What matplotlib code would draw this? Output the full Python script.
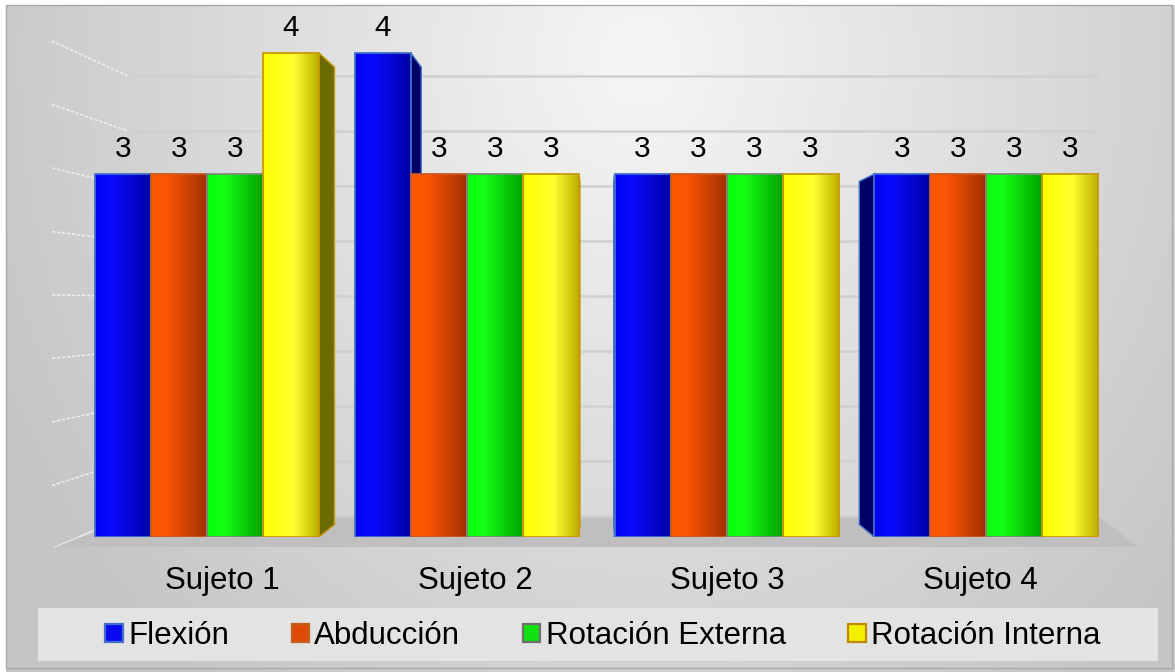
import numpy as np
import matplotlib
matplotlib.use('Agg')
import matplotlib.pyplot as plt
from matplotlib.patches import Rectangle, Polygon

# ---------------- data ----------------
categories = ['Sujeto 1', 'Sujeto 2', 'Sujeto 3', 'Sujeto 4']
series_names = ['Flexión', 'Abducción', 'Rotación Externa', 'Rotación Interna']
flexion = [3, 4, 3, 3]
abduccion = [3, 3, 3, 3]
rot_externa = [3, 3, 3, 3]
rot_interna = [4, 3, 3, 3]
grid_values = [0, 0.5, 1, 1.5, 2, 2.5, 3, 3.5, 4]

series_values = [flexion, abduccion, rot_externa, rot_interna]

# ---------------- styles ----------------
grad_stops = [
    [(0.0, (0.00, 0.00, 0.96)), (0.3, (0.04, 0.04, 1.00)), (1.0, (0.00, 0.00, 0.66))],
    [(0.0, (1.00, 0.34, 0.00)), (0.3, (0.98, 0.33, 0.02)), (1.0, (0.64, 0.19, 0.00))],
    [(0.0, (0.02, 1.00, 0.06)), (0.3, (0.08, 1.00, 0.08)), (1.0, (0.00, 0.64, 0.00))],
    [(0.0, (1.00, 1.00, 0.00)), (0.55, (1.00, 1.00, 0.18)), (1.0, (0.74, 0.68, 0.00))],
]
edge_colors = ['#3f6fc8', '#c85a1e', '#7c8a7c', '#c89a00']
side_colors = ['#000068', '#7a2600', '#005e00', '#6b6b00']
legend_faces = ['#0a0af0', '#e04a08', '#10e010', '#f0f000']
legend_edges = ['#3f6fc8', '#c0601c', '#707070', '#c08a00']

plt.rcParams['font.family'] = ['Liberation Sans', 'DejaVu Sans']

W, H = 1175, 672
fig = plt.figure(figsize=(W / 100, H / 100), dpi=100)

# ---------------- background (pixel coordinates) ----------------
bg = fig.add_axes([0, 0, 1, 1])
bg.set_xlim(0, W)
bg.set_ylim(H, 0)
bg.axis('off')
yy, xx = np.mgrid[0:H, 0:W]
r = np.sqrt(((xx - 640) / 700.0) ** 2 + ((yy - 60) / 800.0) ** 2)
b = np.clip(0.965 - 0.19 * r, 0.775, 1.0)
img = np.dstack([b, b, b])
img[:5, :] = 1.0
img[:, :6] = 1.0
bg.imshow(img, extent=(0, W, H, 0), aspect='auto', interpolation='bilinear', zorder=0)
bg.add_patch(Rectangle((6, 5), 1166, 663, fill=False, edgecolor='#a8a8a8', lw=1, zorder=1))
# floor
bg.add_patch(Polygon([(55, 547), (1138, 547), (1098, 516), (128, 516)], closed=True,
                     facecolor='#bfbfbf', edgecolor='none', zorder=1))
bg.plot([55, 128], [547, 516], color='#e4e4e4', lw=1.0, zorder=1)
# legend box
bg.add_patch(Rectangle((38, 608), 1120, 53, facecolor='#e3e3e3', edgecolor='none', zorder=1))
bg.set_xlim(0, W)
bg.set_ylim(H, 0)

# ---------------- main axes ----------------
PX, PY = 259.8, 121.0   # pixels per category / per value unit
X0, Y0 = 207.0, 537.0   # pixel of category 0 / value 0
YMAX = 4.4
ax = fig.add_axes([0, (H - Y0) / H, 1, YMAX * PY / H])
ax.patch.set_alpha(0)
ax.axis('off')


def px2x(p):
    return (p - X0) / PX


def py2y(p):
    return (Y0 - p) / PY


# back-wall + left-wall grid lines
for v in grid_values:
    y_back = py2y(516 - 110 * v)
    y_left = py2y(549 - 127 * v)
    ax.plot([px2x(52), px2x(128)], [y_left, y_back], color='#ededed', lw=1.2,
            ls=(0, (2, 1)), zorder=1)
    ax.plot([px2x(128), px2x(1098)], [y_back, y_back], color='#d0d0d0', lw=1.8, zorder=1)

bw = 56.0 / PX
offsets = (np.arange(4) - 1.5) * bw
vp = np.array([px2x(600), py2y(310)])
depth = 0.055


def grad_image(stops, n=128):
    pos = np.array([s[0] for s in stops])
    cols = np.array([s[1] for s in stops])
    t = np.linspace(0, 1, n)
    out = np.stack([np.interp(t, pos, cols[:, c]) for c in range(3)], axis=-1)
    return out[None, :, :]


for j, vals in enumerate(series_values):
    gimg = grad_image(grad_stops[j])
    for i, v in enumerate(vals):
        x0 = i + offsets[j] - bw / 2
        x1 = x0 + bw
        cx = i + offsets[j]
        # visible side face (perspective)
        face_edge = None
        if cx < vp[0]:
            if j == 3 or series_values[j + 1][i] < v:
                face_edge = x1
        else:
            if j == 0 or series_values[j - 1][i] < v:
                face_edge = x0
        if face_edge is not None:
            p1 = np.array([face_edge, 0.0])
            p2 = np.array([face_edge, v])
            p1b = p1 + depth * (vp - p1)
            p2b = p2 + depth * (vp - p2)
            ax.add_patch(Polygon([p1, p2, p2b, p1b], closed=True, facecolor=side_colors[j],
                                 edgecolor=edge_colors[j], lw=1.0, zorder=2))
        rect = Rectangle((x0, 0), bw, v, facecolor='none', edgecolor='none', zorder=3)
        ax.add_patch(rect)
        im = ax.imshow(gimg, extent=(x0, x1, 0, v), aspect='auto', zorder=3,
                       interpolation='bilinear')
        im.set_clip_path(rect)
        ax.add_patch(Rectangle((x0, 0), bw, v, fill=False, edgecolor=edge_colors[j],
                               lw=1.3, zorder=4))
        ax.annotate(str(v), (cx, v), xytext=(0, 12.5), textcoords='offset points',
                    ha='center', va='baseline', fontsize=21.5, color='black', zorder=5)

# category labels (front edge of floor, perspective-shifted)
lab_vp = px2x(757)
for i, cat in enumerate(categories):
    lx = lab_vp + 0.972 * (i - lab_vp)
    ax.annotate(cat, (lx, 0), xytext=(0, -37.5), textcoords='offset points',
                ha='center', va='baseline', fontsize=22.5, color='black',
                annotation_clip=False)

ax.set_xlim(-X0 / PX, (W - X0) / PX)
ax.set_ylim(0, YMAX)

# legend
handles = [Rectangle((0, 0), 1, 1, facecolor=legend_faces[k], edgecolor=legend_edges[k], lw=1.6)
           for k in range(4)]
fig.legend(handles, series_names, loc='center', bbox_to_anchor=(603 / W, 1 - 636 / H),
           ncol=4, frameon=False, fontsize=22.5, handlelength=0.55, handleheight=0.55,
           handletextpad=0.18, columnspacing=2.0, borderpad=0, borderaxespad=0)

fig.savefig('out.png', dpi=100)
